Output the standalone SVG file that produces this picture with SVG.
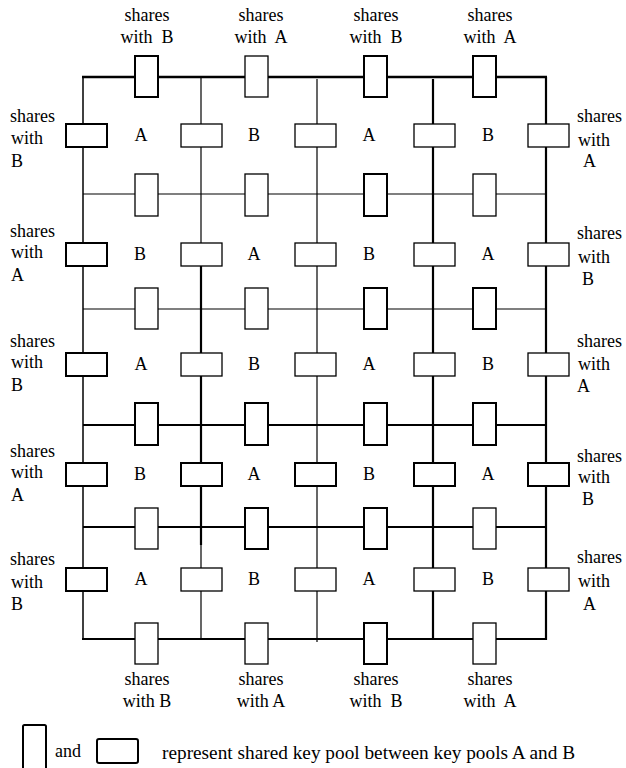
<svg xmlns="http://www.w3.org/2000/svg" width="626" height="768" viewBox="0 0 626 768" font-family="'Liberation Serif', 'Times New Roman', 'DejaVu Serif', serif">
<style>
text{font-family:'Liberation Serif','Times New Roman','DejaVu Serif',serif;font-size:18px;fill:#000}
.c{text-anchor:middle}
.pre text{white-space:pre}
.thick{stroke:#000;stroke-width:2.2;fill:none}
.thin{stroke:#000;stroke-width:1.2;fill:none}
.pk{fill:#fff;stroke:#000;stroke-width:1.3}
.pkb{fill:#fff;stroke:#000;stroke-width:2}
</style>
<rect width="626" height="768" fill="#fff"/>
<g id="connectors">
  <line class="thick" x1="82" y1="77" x2="547" y2="77" style="stroke-width:2.6"/>
  <line class="thin" x1="83" y1="77" x2="83" y2="639" style="stroke-width:1.5"/>
  <line class="thick" x1="546" y1="77" x2="546" y2="640"/>
  <line class="thick" x1="82" y1="639" x2="547" y2="639"/>
  <line class="thin" x1="83" y1="194" x2="546" y2="194"/>
  <line class="thin" x1="83" y1="309" x2="546" y2="309"/>
  <line class="thick" x1="83" y1="425" x2="546" y2="425"/>
  <line class="thick" x1="83" y1="527" x2="546" y2="527"/>
  <line class="thin" x1="201" y1="77" x2="201" y2="255"/>
  <line class="thick" x1="201" y1="255" x2="201" y2="545"/>
  <line class="thin" x1="201" y1="545" x2="201" y2="639"/>
  <line class="thin" x1="317" y1="79" x2="317" y2="642"/>
  <line class="thick" x1="433" y1="79" x2="433" y2="639"/>
</g>
<g id="pools-vertical">
  <rect class="pkb" x="135" y="56" width="23" height="41"/>
  <rect class="pk" x="245" y="56" width="23" height="41"/>
  <rect class="pkb" x="364" y="56" width="23" height="41"/>
  <rect class="pkb" x="473" y="56" width="23" height="41"/>
  <rect class="pk" x="135" y="174" width="23" height="42"/>
  <rect class="pk" x="245" y="174" width="23" height="42"/>
  <rect class="pkb" x="364" y="174" width="23" height="42"/>
  <rect class="pk" x="473" y="174" width="23" height="42"/>
  <rect class="pk" x="135" y="288" width="23" height="41"/>
  <rect class="pk" x="245" y="288" width="23" height="41"/>
  <rect class="pkb" x="364" y="288" width="23" height="41"/>
  <rect class="pkb" x="473" y="288" width="23" height="41"/>
  <rect class="pkb" x="135" y="403" width="23" height="42"/>
  <rect class="pkb" x="245" y="403" width="23" height="42"/>
  <rect class="pkb" x="364" y="403" width="23" height="42"/>
  <rect class="pkb" x="473" y="403" width="23" height="42"/>
  <rect class="pk" x="135" y="508" width="23" height="41"/>
  <rect class="pkb" x="245" y="508" width="23" height="41"/>
  <rect class="pkb" x="364" y="508" width="23" height="41"/>
  <rect class="pk" x="473" y="508" width="23" height="41"/>
  <rect class="pk" x="135" y="623" width="23" height="41"/>
  <rect class="pk" x="245" y="623" width="23" height="41"/>
  <rect class="pkb" x="364" y="623" width="23" height="41"/>
  <rect class="pk" x="473" y="623" width="23" height="41"/>
</g>
<g id="pools-horizontal">
  <rect class="pkb" x="66" y="124" width="41" height="23"/>
  <rect class="pk" x="181" y="124" width="41" height="23"/>
  <rect class="pk" x="295" y="124" width="41" height="23"/>
  <rect class="pk" x="414" y="124" width="41" height="23"/>
  <rect class="pk" x="528" y="124" width="41" height="23"/>
  <rect class="pkb" x="66" y="243" width="41" height="23"/>
  <rect class="pk" x="181" y="243" width="41" height="23"/>
  <rect class="pk" x="295" y="243" width="41" height="23"/>
  <rect class="pk" x="414" y="243" width="41" height="23"/>
  <rect class="pk" x="528" y="243" width="41" height="23"/>
  <rect class="pkb" x="66" y="353" width="41" height="23"/>
  <rect class="pk" x="181" y="353" width="41" height="23"/>
  <rect class="pk" x="295" y="353" width="41" height="23"/>
  <rect class="pk" x="414" y="353" width="41" height="23"/>
  <rect class="pk" x="528" y="353" width="41" height="23"/>
  <rect class="pkb" x="66" y="463" width="41" height="23"/>
  <rect class="pkb" x="181" y="463" width="41" height="23"/>
  <rect class="pkb" x="295" y="463" width="41" height="23"/>
  <rect class="pkb" x="414" y="463" width="41" height="23"/>
  <rect class="pkb" x="528" y="463" width="41" height="23"/>
  <rect class="pkb" x="66" y="568" width="41" height="23"/>
  <rect class="pk" x="181" y="568" width="41" height="23"/>
  <rect class="pk" x="295" y="568" width="41" height="23"/>
  <rect class="pk" x="414" y="568" width="41" height="23"/>
  <rect class="pk" x="528" y="568" width="41" height="23"/>
</g>
<g id="cells">
  <text class="c" x="141" y="141">A</text><text class="c" x="254" y="141">B</text><text class="c" x="369" y="141">A</text><text class="c" x="488" y="141">B</text>
  <text class="c" x="140" y="260">B</text><text class="c" x="254" y="260">A</text><text class="c" x="369" y="260">B</text><text class="c" x="488" y="260">A</text>
  <text class="c" x="141" y="370">A</text><text class="c" x="254" y="370">B</text><text class="c" x="369" y="370">A</text><text class="c" x="488" y="370">B</text>
  <text class="c" x="140" y="480">B</text><text class="c" x="254" y="480">A</text><text class="c" x="369" y="480">B</text><text class="c" x="488" y="480">A</text>
  <text class="c" x="141" y="585">A</text><text class="c" x="254" y="585">B</text><text class="c" x="369" y="585">A</text><text class="c" x="488" y="585">B</text>
</g>
<g id="labels-top" class="pre">
  <text class="c" x="147" y="21">shares</text><text class="c" x="147" y="43">with  B</text>
  <text class="c" x="261" y="21">shares</text><text class="c" x="261" y="43">with  A</text>
  <text class="c" x="376" y="21">shares</text><text class="c" x="376" y="43">with  B</text>
  <text class="c" x="490" y="21">shares</text><text class="c" x="490" y="43">with  A</text>
</g>
<g id="labels-bottom" class="pre">
  <text class="c" x="147" y="685">shares</text><text class="c" x="147" y="707">with B</text>
  <text class="c" x="261" y="685">shares</text><text class="c" x="261" y="707">with A</text>
  <text class="c" x="376" y="685">shares</text><text class="c" x="376" y="707">with  B</text>
  <text class="c" x="490" y="685">shares</text><text class="c" x="490" y="707">with  A</text>
</g>
<g id="labels-left">
  <text x="10" y="122">shares</text><text x="11" y="144">with</text><text x="11" y="167">B</text>
  <text x="10" y="237">shares</text><text x="11" y="258">with</text><text x="11" y="281">A</text>
  <text x="10" y="347">shares</text><text x="11" y="368">with</text><text x="11" y="391">B</text>
  <text x="10" y="457">shares</text><text x="11" y="478">with</text><text x="11" y="501">A</text>
  <text x="10" y="565">shares</text><text x="11" y="588">with</text><text x="11" y="610">B</text>
</g>
<g id="labels-right">
  <text x="577" y="122">shares</text><text x="578" y="146">with</text><text x="583" y="167">A</text>
  <text x="577" y="239">shares</text><text x="578" y="263">with</text><text x="582" y="285">B</text>
  <text x="577" y="347">shares</text><text x="578" y="370">with</text><text x="577" y="392">A</text>
  <text x="577" y="462">shares</text><text x="578" y="483">with</text><text x="582" y="505">B</text>
  <text x="577" y="563">shares</text><text x="578" y="587">with</text><text x="583" y="610">A</text>
</g>
<g id="legend">
  <rect class="pkb" x="23" y="725" width="23" height="48" rx="1.5"/>
  <text x="55" y="757">and</text>
  <rect class="pkb" x="97" y="739" width="41" height="24" rx="2"/>
  <text x="162" y="759" textLength="413" lengthAdjust="spacingAndGlyphs">represent shared key pool between key pools A and B</text>
</g>
</svg>
